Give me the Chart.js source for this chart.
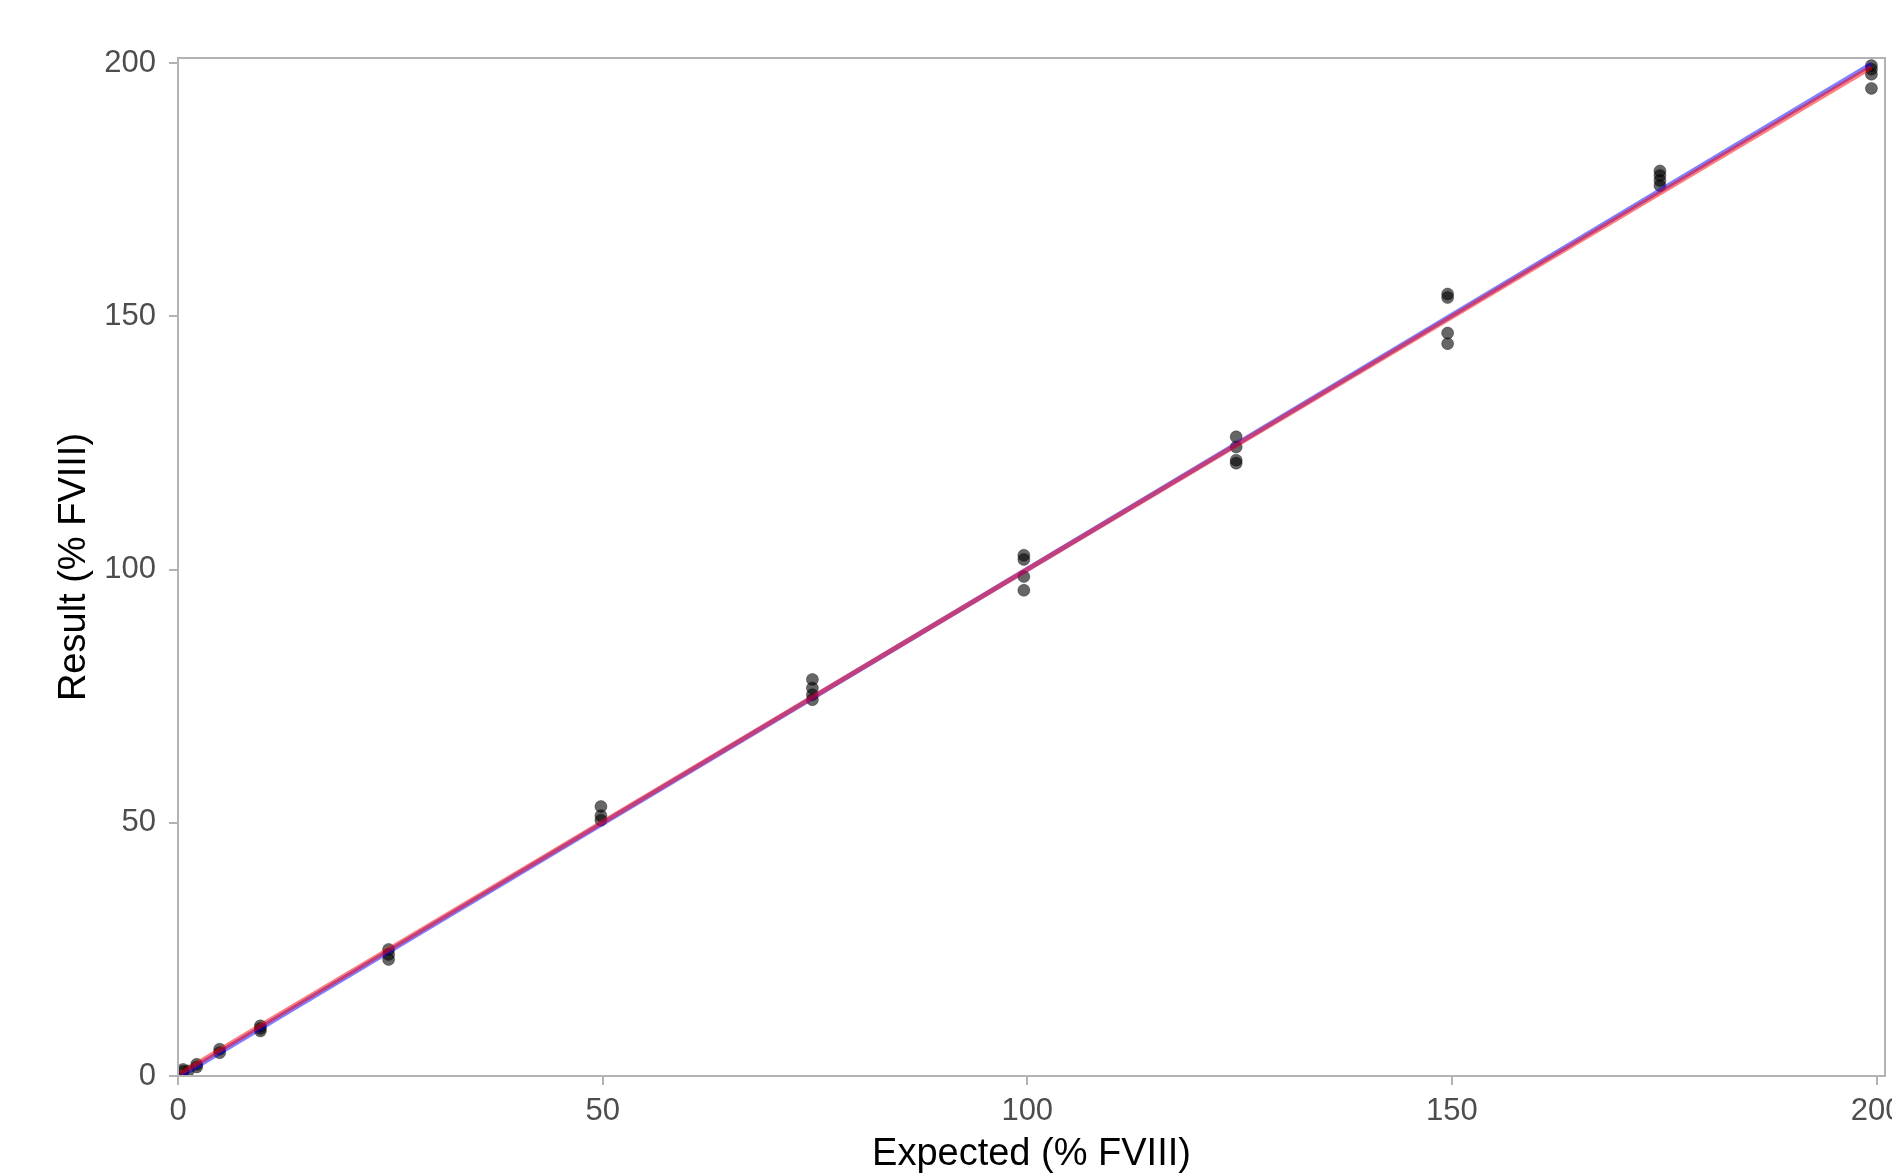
<html>
<head>
<meta charset="utf-8" />
<title>Expected vs Result (% FVIII)</title>
<script src="https://cdn.jsdelivr.net/npm/chart.js@4.4.1/dist/chart.umd.min.js"></script>
<style>
  html, body { margin: 0; padding: 0; background: #fff; overflow: hidden; }
  #chart { display: block; }
</style>
</head>
<body>
<canvas id="chart" width="1892" height="1175"></canvas>
<script>
// measured points: expected level (x) and assay result (y)
const expected = [
  0.6, 0.6, 1.2, 2.2, 2.2,
  4.9, 4.9,
  9.7, 9.7, 9.7,
  24.8, 24.8, 24.8,
  49.8, 49.8, 49.8,
  74.7, 74.7, 74.7, 74.7,
  99.6, 99.6, 99.6, 99.6,
  124.6, 124.6, 124.6, 124.6,
  149.5, 149.5, 149.5, 149.5,
  174.5, 174.5, 174.5, 174.5,
  199.4, 199.4, 199.4, 199.4
];
const result = [
  0.9, 1.3, 1.0, 2.3, 1.8,
  5.3, 4.6,
  9.9, 9.4, 8.9,
  25.0, 24.0, 23.0,
  53.2, 51.4, 50.5,
  78.3, 76.6, 75.3, 74.3,
  102.8, 102.0, 98.6, 95.9,
  126.2, 124.2, 121.6, 121.0,
  154.4, 153.7, 146.7, 144.6,
  178.7, 177.8, 176.8, 175.8,
  199.5, 198.8, 197.8, 195.0
];
// fitted lines (end points)
const fitX = [0.3, 199.4];
const blueFit = [0.0, 199.8];
const redFit = [0.5, 199.2];
const tickValues = [0, 50, 100, 150, 200];

const pts = expected.map((x, i) => ({ x: x, y: result[i] }));
const line = ys => fitX.map((x, i) => ({ x: x, y: ys[i] }));

const grey = '#b3b3b3';
const fontFam = "'Liberation Sans', Arial, sans-serif";

const boxPlugin = {
  id: 'panelBox',
  afterDraw(chart) {
    const a = chart.chartArea, c = chart.ctx;
    c.save();
    c.strokeStyle = grey;
    c.lineWidth = 2;
    c.strokeRect(a.left, a.top, a.right - a.left, a.bottom - a.top);
    c.restore();
  }
};

function axisTicks(scale) {
  scale.ticks = tickValues.map(v => ({ value: v }));
}

new Chart(document.getElementById('chart'), {
  type: 'scatter',
  data: {
    datasets: [
      {
        type: 'line', data: line(redFit),
        borderColor: 'rgba(255,0,0,0.5)', borderWidth: 5,
        pointRadius: 0, fill: false
      },
      {
        type: 'line', data: line(blueFit),
        borderColor: 'rgba(0,0,255,0.5)', borderWidth: 5,
        pointRadius: 0, fill: false
      },
      {
        data: pts,
        backgroundColor: 'rgba(0,0,0,0.6)',
        borderColor: 'rgba(0,0,0,0.35)',
        borderWidth: 1,
        pointRadius: 6
      }
    ]
  },
  options: {
    responsive: false,
    animation: false,
    events: [],
    layout: { padding: { left: 0, right: 5, top: 58, bottom: 0 } },
    plugins: { legend: { display: false }, tooltip: { enabled: false } },
    scales: {
      x: {
        type: 'linear', min: 0, max: 201,
        afterBuildTicks: axisTicks,
        afterFit(scale) { scale.height = 99; scale.paddingLeft = 0; scale.paddingRight = 0; },
        grid: { drawOnChartArea: false, drawTicks: true, tickLength: 9, color: grey, lineWidth: 2 },
        border: { display: false },
        ticks: { color: '#4d4d4d', padding: 8, font: { family: fontFam, size: 31 } },
        title: {
          display: true, text: 'Expected (% FVIII)', color: '#000',
          padding: { top: 0, bottom: -2 },
          font: { family: fontFam, size: 38 }
        }
      },
      y: {
        type: 'linear', min: 0, max: 201,
        afterBuildTicks: axisTicks,
        afterFit(scale) { scale.width = 178; scale.paddingTop = 0; scale.paddingBottom = 0; },
        grid: { drawOnChartArea: false, drawTicks: true, tickLength: 9, color: grey, lineWidth: 2 },
        border: { display: false },
        ticks: { color: '#4d4d4d', padding: 13, font: { family: fontFam, size: 31 } },
        title: {
          display: true, text: 'Result (% FVIII)', color: '#000',
          padding: { top: 52, bottom: 0 },
          font: { family: fontFam, size: 38 }
        }
      }
    }
  },
  plugins: [boxPlugin]
});
</script>
</body>
</html>
